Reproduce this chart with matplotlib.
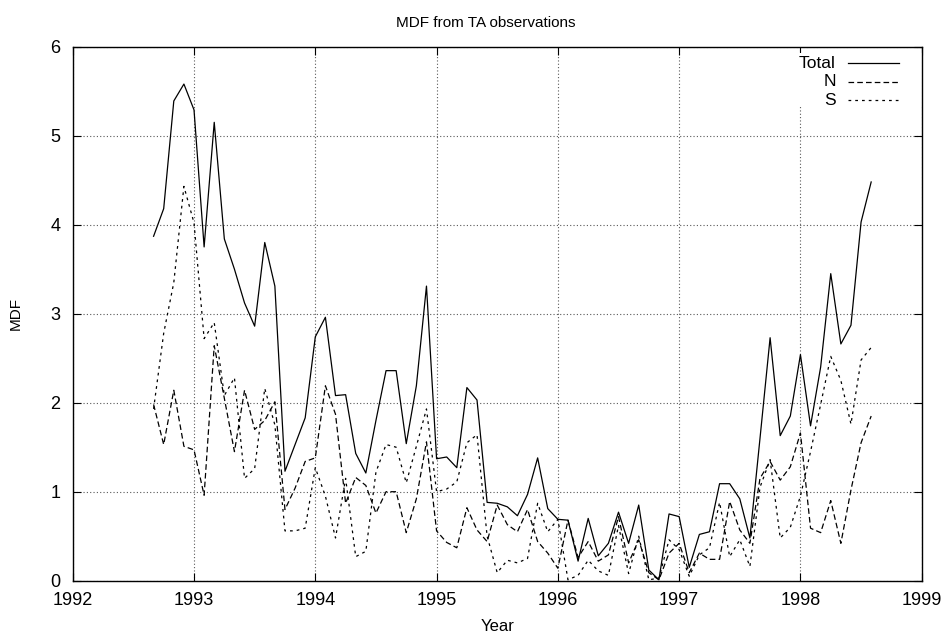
import matplotlib
matplotlib.use('Agg')
import matplotlib.pyplot as plt
import numpy as np

# monthly samples, Sep 1992 .. Aug 1998
first_month = 8  # months after Jan 1992
total = [3.87, 4.18, 5.39, 5.58, 5.29, 3.75, 5.15, 3.84, 3.50, 3.12, 2.86, 3.80,
         3.31, 1.23, 1.53, 1.83, 2.74, 2.96, 2.08, 2.09, 1.43, 1.21, 1.80, 2.36,
         2.36, 1.54, 2.19, 3.31, 1.37, 1.39, 1.27, 2.17, 2.03, 0.88, 0.87, 0.83,
         0.73, 0.97, 1.38, 0.81, 0.69, 0.68, 0.22, 0.70, 0.28, 0.42, 0.77, 0.42,
         0.85, 0.12, 0.01, 0.75, 0.72, 0.15, 0.52, 0.55, 1.09, 1.09, 0.92, 0.48,
         1.60, 2.73, 1.63, 1.85, 2.54, 1.74, 2.40, 3.45, 2.66, 2.87, 4.03, 4.48]
north = [1.98, 1.53, 2.14, 1.51, 1.47, 0.96, 2.64, 2.05, 1.45, 2.14, 1.70, 1.80,
         2.01, 0.80, 1.04, 1.34, 1.38, 2.19, 1.87, 0.87, 1.16, 1.07, 0.76, 1.00,
         1.00, 0.54, 0.92, 1.56, 0.56, 0.43, 0.37, 0.82, 0.57, 0.44, 0.85, 0.63,
         0.55, 0.80, 0.44, 0.31, 0.14, 0.68, 0.26, 0.44, 0.22, 0.29, 0.72, 0.20,
         0.46, 0.09, 0.01, 0.31, 0.42, 0.09, 0.31, 0.24, 0.24, 0.89, 0.57, 0.42,
         1.15, 1.34, 1.13, 1.28, 1.66, 0.59, 0.54, 0.90, 0.42, 1.02, 1.55, 1.85]
south = [1.93, 2.78, 3.35, 4.43, 4.02, 2.72, 2.90, 2.08, 2.28, 1.15, 1.26, 2.16,
         1.75, 0.56, 0.56, 0.59, 1.27, 0.95, 0.48, 1.15, 0.27, 0.33, 1.22, 1.53,
         1.50, 1.10, 1.51, 1.93, 1.00, 1.03, 1.11, 1.55, 1.64, 0.50, 0.09, 0.23,
         0.20, 0.25, 0.87, 0.55, 0.69, 0.01, 0.06, 0.23, 0.11, 0.06, 0.62, 0.08,
         0.50, 0.01, 0.03, 0.46, 0.35, 0.05, 0.29, 0.37, 0.88, 0.27, 0.46, 0.16,
         1.05, 1.36, 0.48, 0.60, 0.95, 1.45, 1.98, 2.52, 2.25, 1.76, 2.48, 2.62]
labels = ['Total', 'N', 'S']

years = 1992 + (first_month + np.arange(len(total))) / 12.0

plt.rcParams['font.family'] = ['Liberation Sans', 'DejaVu Sans']
plt.rcParams['font.size'] = 13

fig = plt.figure(figsize=(9.47, 6.35), dpi=100)
ax = fig.add_axes([0.0768, 0.0855, 0.8965, 0.841])

styles = ['-', (0, (4.5, 2.5)), (0, (2.2, 3.2))]
for vals, ls, lab in zip([total, north, south], styles, labels):
    ax.plot(years, vals, color='black', lw=0.9, linestyle=ls, zorder=3)

ax.set_xlim(1992, 1999)
ax.set_ylim(0, 6)
ax.set_xticks(range(1992, 2000))
ax.set_yticks(range(0, 7))
ax.grid(True, color='0.35', linestyle=(0, (1, 2)), lw=0.8)
ax.tick_params(direction='in', top=True, right=True, length=6, width=0.8)
ax.tick_params(axis='x', pad=8)
ax.tick_params(axis='y', pad=9)
for s in ax.spines.values():
    s.set_linewidth(1.0)

ax.set_title('MDF from TA observations', fontsize=11, pad=14, x=0.487)
ax.set_xlabel('Year', fontsize=12, labelpad=7)
ax.set_ylabel('MDF', fontsize=11, labelpad=20)

# gnuplot style key: blank box, right aligned text, sample to the right
ax.add_patch(plt.Rectangle((0.85, 0.887), 0.15, 0.101, transform=ax.transAxes,
                           facecolor='white', edgecolor='none', zorder=2))
for k, (ls, lab) in enumerate(zip(styles, labels)):
    yk = 0.969 - k * 0.0345
    ax.text(0.899, yk, lab, transform=ax.transAxes, ha='right', va='center',
            fontsize=12.5, zorder=4)
    ax.plot([0.913, 0.973], [yk, yk], transform=ax.transAxes, color='black',
            lw=0.9, linestyle=ls, zorder=4)

fig.savefig('out.png', dpi=100)
